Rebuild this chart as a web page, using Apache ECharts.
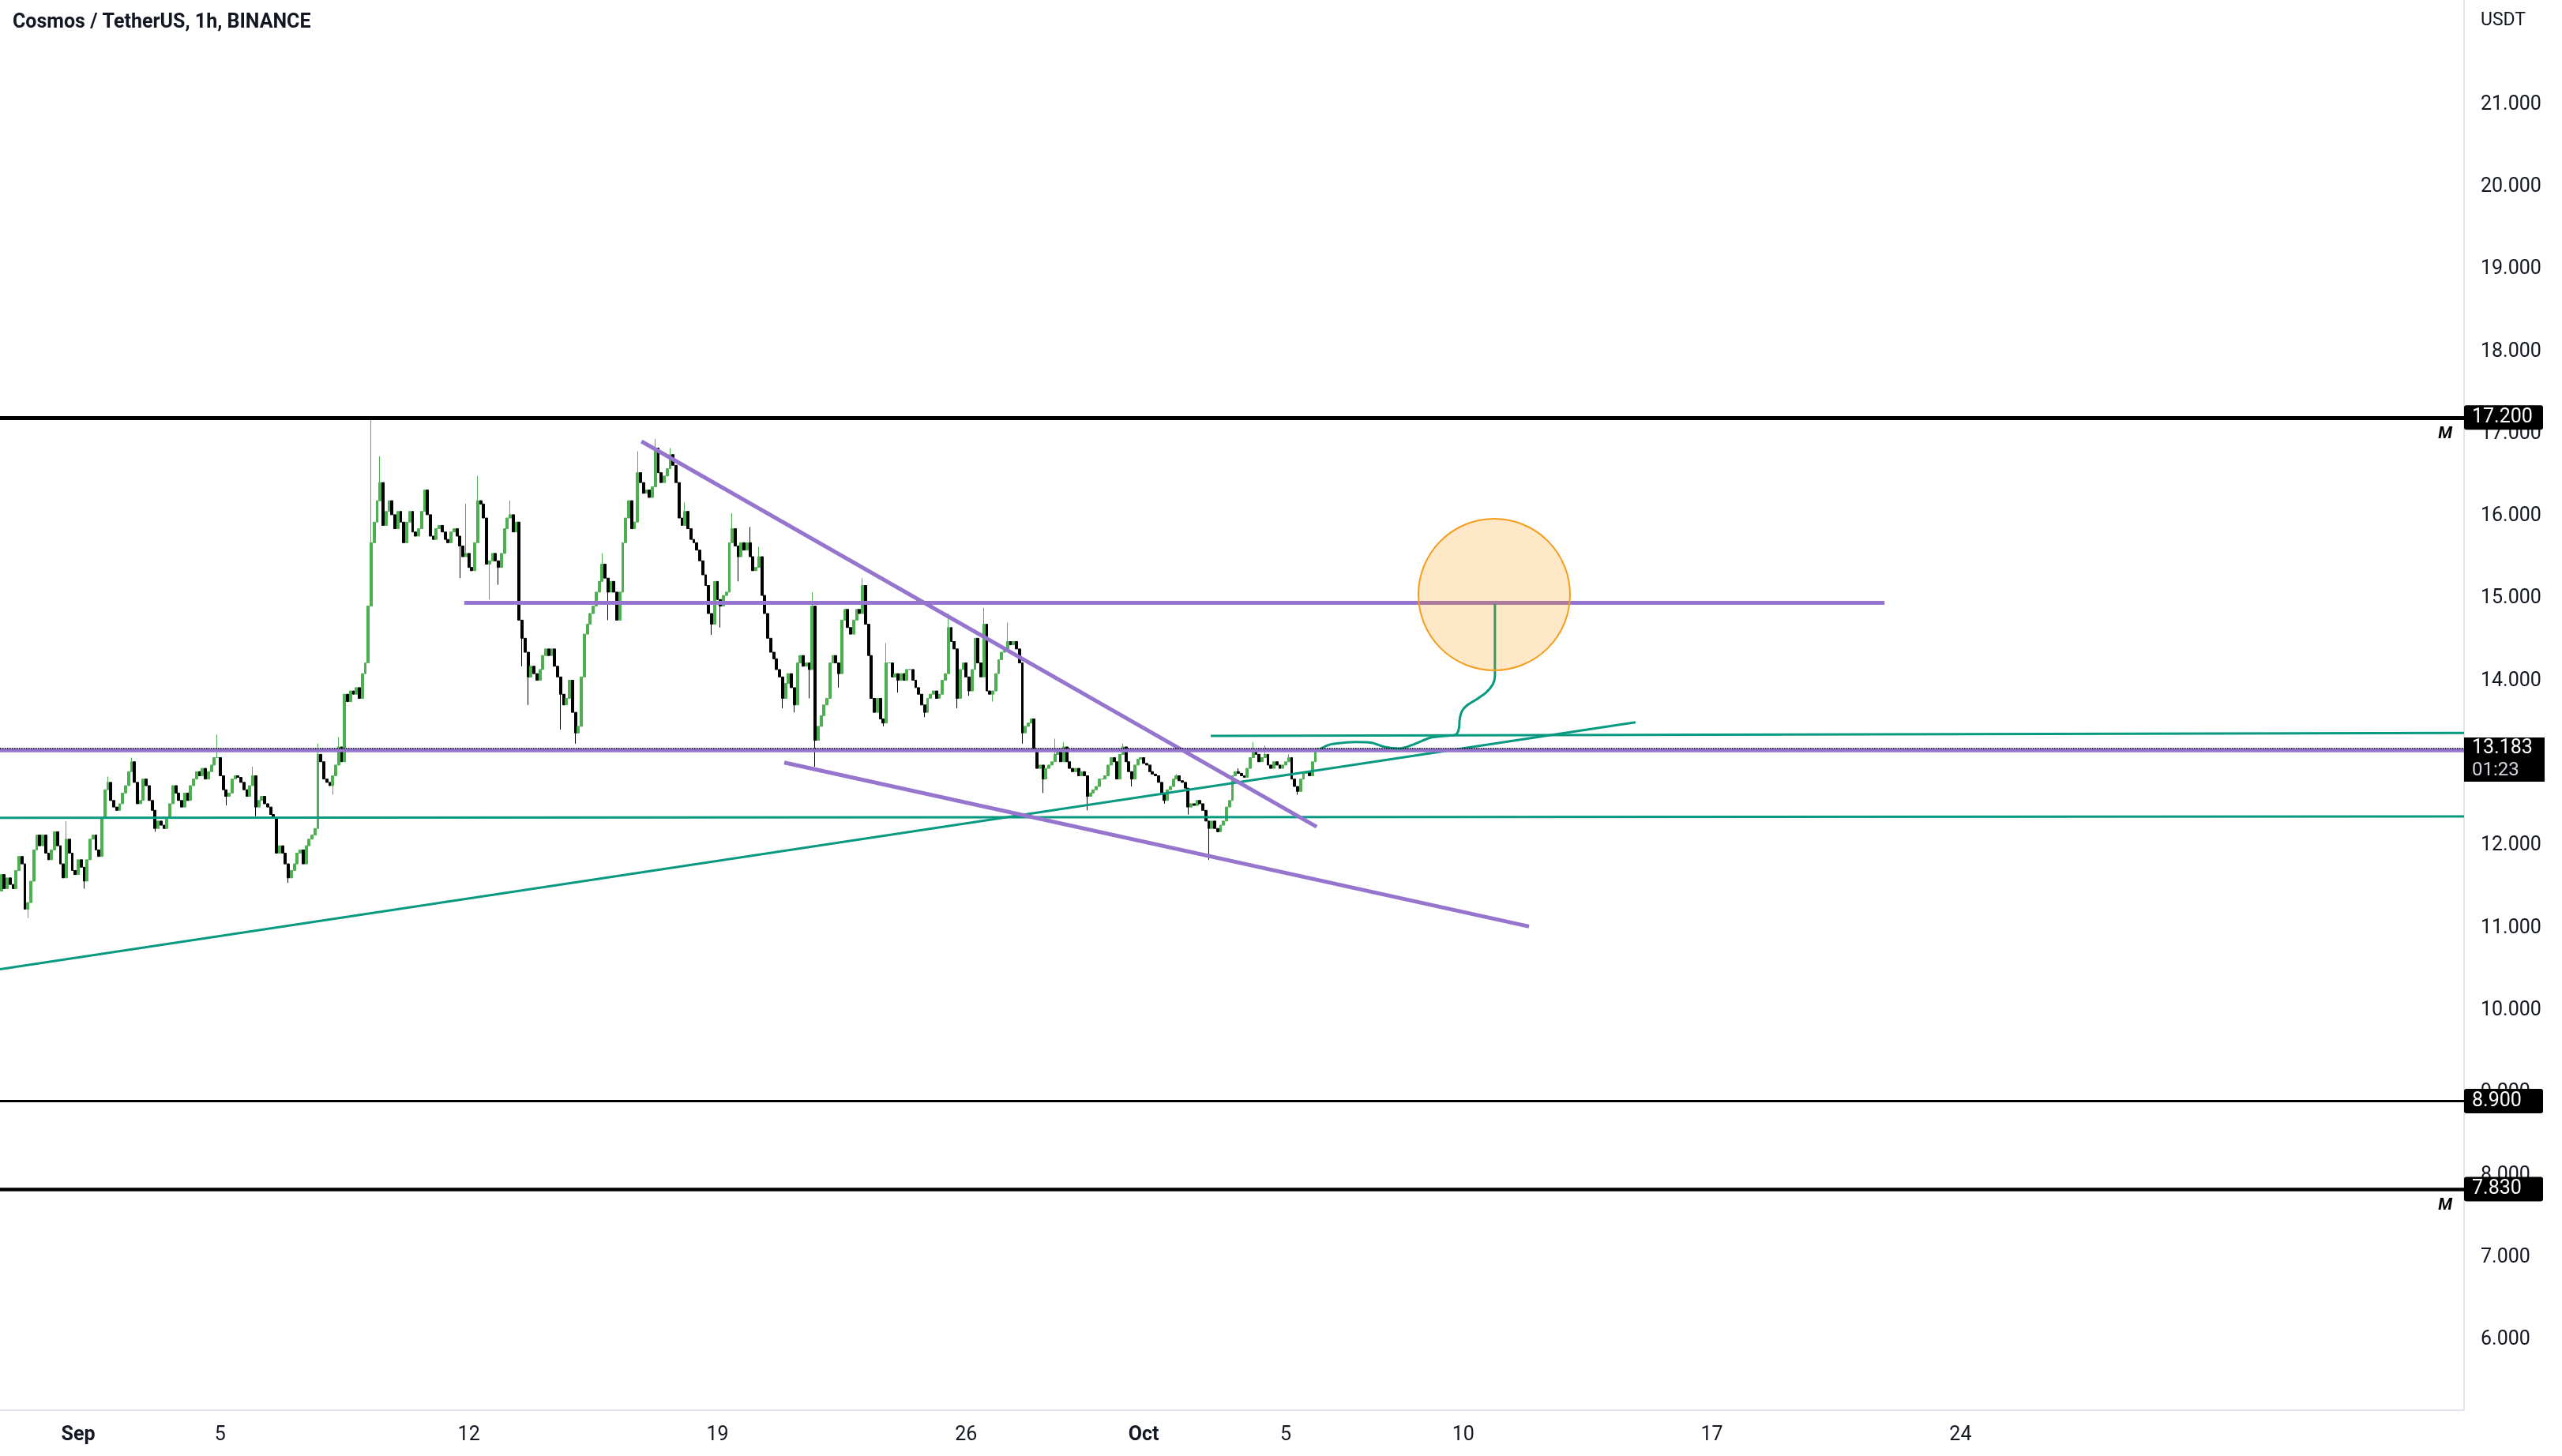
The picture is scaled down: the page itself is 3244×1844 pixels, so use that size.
<!DOCTYPE html>
<html>
<head>
<meta charset="utf-8">
<script src="https://cdn.jsdelivr.net/npm/echarts@6/dist/echarts.min.js"></script>
<style>html,body{margin:0;padding:0;background:#fff}#c{width:3244px;height:1844px}</style>
</head>
<body>
<div id="c"></div>
<script>
// ---- time base: days since 2022-09-01 00:00 ----
const startDay = -2.1667;          // first 2h candle: Aug 29 20:00
const stepDay = 1 / 12;            // 2-hour candles
const xMin = -2.2015;
const xMax = 67.178;
const yMin = 5.146;
const yMax = 22.27;

const firstOpen = 11.45;
const closes = [
11.65,11.48,11.61,11.53,11.48,11.70,11.87,11.78,11.23,11.31,
11.57,11.95,12.13,12.00,12.13,11.91,11.83,11.95,12.17,12.00,
11.78,11.61,12.08,11.91,11.70,11.65,11.83,11.74,11.57,11.83,
12.08,12.13,11.95,11.87,12.34,12.68,12.77,12.55,12.47,12.43,
12.51,12.64,12.73,12.90,13.02,12.77,12.51,12.55,12.81,12.73,
12.55,12.43,12.21,12.30,12.25,12.21,12.34,12.51,12.73,12.64,
12.55,12.47,12.64,12.55,12.73,12.81,12.90,12.85,12.94,12.81,
12.90,12.98,13.07,13.07,12.85,12.68,12.60,12.64,12.81,12.85,
12.83,12.77,12.68,12.60,12.73,12.85,12.47,12.55,12.60,12.51,
12.47,12.38,12.34,11.91,12.00,11.91,11.78,11.61,11.70,11.78,
11.91,11.95,11.78,12.00,12.08,12.13,12.21,13.11,13.02,12.81,
12.77,12.73,12.85,12.98,13.20,13.02,13.84,13.75,13.88,13.84,
13.92,13.79,14.09,14.22,14.91,15.68,15.93,16.19,16.41,15.89,
16.06,16.19,16.02,15.85,16.06,15.93,15.68,15.93,16.06,15.81,
15.76,15.85,16.06,16.32,16.02,15.76,15.72,15.85,15.89,15.81,
15.72,15.68,15.81,15.85,15.76,15.64,15.51,15.55,15.38,15.34,
15.68,16.19,16.15,15.98,15.42,15.46,15.55,15.46,15.38,15.55,
15.85,15.98,16.02,15.81,15.93,14.74,14.52,14.35,14.05,14.18,
14.09,14.01,14.14,14.31,14.39,14.31,14.39,14.18,14.05,13.84,
13.71,13.79,14.01,13.62,13.37,13.45,14.05,14.57,14.69,14.82,
14.91,15.08,15.21,15.42,15.25,15.08,15.21,15.08,14.74,15.08,
15.68,15.98,16.19,15.85,15.93,16.53,16.41,16.28,16.32,16.23,
16.36,16.83,16.53,16.41,16.49,16.58,16.75,16.62,16.41,15.98,
15.89,16.06,15.85,15.72,15.68,15.59,15.46,15.29,15.16,14.82,
14.69,15.21,14.99,14.91,15.04,15.08,15.68,15.85,15.64,15.51,
15.68,15.59,15.68,15.51,15.34,15.38,15.51,15.04,14.82,14.52,
14.35,14.27,14.14,14.05,13.79,13.97,14.09,13.92,13.71,14.22,
14.31,14.18,14.22,14.14,14.91,13.28,13.45,13.58,13.71,13.79,
14.22,14.31,14.22,14.09,14.74,14.87,14.65,14.57,14.74,14.87,
14.82,15.16,14.69,14.31,13.79,13.62,13.79,13.54,13.49,14.22,
14.22,14.05,14.09,14.01,14.09,14.01,14.14,14.14,14.01,13.92,
13.84,13.71,13.62,13.79,13.84,13.88,13.79,13.84,14.01,14.09,
14.65,14.48,14.39,13.79,14.14,14.22,14.05,13.88,14.14,14.52,
14.22,14.05,14.69,13.88,13.84,13.88,14.09,14.26,14.35,14.39,
14.48,14.44,14.48,14.39,14.22,13.37,13.45,13.49,13.54,13.15,
12.94,12.98,12.81,12.94,12.98,13.02,13.11,13.15,13.02,13.20,
13.02,12.94,12.90,12.94,12.85,12.90,12.85,12.60,12.64,12.68,
12.72,12.81,12.81,12.85,12.98,13.07,13.02,12.81,13.11,13.20,
13.02,12.90,12.81,12.98,13.05,13.07,13.00,12.98,12.90,12.87,
12.85,12.77,12.64,12.55,12.68,12.72,12.81,12.85,12.79,12.77,
12.70,12.47,12.51,12.49,12.55,12.51,12.43,12.30,12.21,12.30,
12.21,12.17,12.25,12.30,12.47,12.55,12.85,12.90,12.88,12.85,
12.83,12.94,13.07,13.15,13.11,13.02,13.07,13.11,12.98,12.94,
13.02,12.98,12.94,12.98,13.02,13.07,12.81,12.72,12.66,12.81,
12.88,12.90,12.85,13.02,13.15,13.183
];
// notable wick extremes: [candle index, price]
const wickHighs = [
[22,12.30],[36,12.84],[44,13.07],[73,13.35],[85,12.96],[107,13.24],[114,13.32],[125,17.18],
[128,16.73],[157,16.15],[161,16.49],[172,16.19],[203,15.55],[215,16.79],[221,16.94],[226,16.83],
[231,16.17],[247,16.04],[253,15.87],[256,15.63],[274,15.08],[291,15.25],[299,14.46],[320,14.82],
[332,14.89],[340,14.71],[356,13.30],[359,13.26],[379,13.24],[397,12.87],[418,12.94],[423,13.26],
[427,13.22],[435,13.11]
];
const wickLows = [
[9,11.12],[28,11.48],[52,12.17],[76,12.49],[86,12.36],[97,11.55],[112,12.62],[155,15.25],
[165,14.99],[168,15.17],[176,14.18],[178,13.71],[189,13.41],[194,13.24],[205,14.74],[240,14.56],
[243,14.65],[249,15.21],[264,13.67],[268,13.62],[273,13.79],[275,12.96],[283,13.92],[298,13.45],
[303,13.86],[312,13.56],[323,13.67],[327,13.82],[335,13.75],[345,13.24],[352,12.64],[367,12.43],
[382,12.72],[393,12.51],[401,12.38],[408,11.83],[438,12.62]
];

// axis ticks
const xTickDays = [0, 4, 11, 18, 25, 30, 34, 39, 46, 53];
const xTickLabels = ['Sep', '5', '12', '19', '26', 'Oct', '5', '10', '17', '24'];
const yTicks = [6, 7, 8, 9, 10, 11, 12, 13, 14, 15, 16, 17, 18, 19, 20, 21];

// horizontal levels
const blackLevels = [17.2, 8.9, 7.83];
const mLevels = [17.2, 7.83];
const lastPrice = 13.183;
const countdown = '01:23';

// drawn lines: [[startDay, startPrice], [endDay, endPrice]]
const purpleSegments = [
  [[-2.2015, 13.16], [67.178, 13.16]],
  [[10.87, 14.95], [50.86, 14.95]],
  [[15.86, 16.91], [34.87, 12.23]],
  [[19.88, 13.01], [40.85, 11.02]]
];
const tealSegments = [
  [[-2.2015, 10.50], [43.85, 13.50]],
  [[-2.2015, 12.34], [67.178, 12.355]],
  [[31.89, 13.335], [67.178, 13.37]]
];
// hand-drawn projected path
const pathDays = [34.98, 35.25, 35.60, 35.98, 36.42, 36.78, 37.20, 37.60, 38.05, 38.38, 38.71, 38.82, 38.88, 38.90, 38.97, 39.12, 39.38, 39.64, 39.83, 39.89, 39.89];
const pathPrices = [13.18, 13.23, 13.25, 13.26, 13.25, 13.20, 13.18, 13.23, 13.31, 13.33, 13.34, 13.36, 13.43, 13.54, 13.64, 13.71, 13.78, 13.86, 13.96, 14.06, 14.94];
// target circle centre
const targetDay = 39.87;
const targetPrice = 15.05;

// ---- build ----
const F = 'Roboto, "Liberation Sans", Arial, sans-serif';
const hiMap = new Map(wickHighs);
const loMap = new Map(wickLows);
const candles = [];
let prev = firstOpen;
closes.forEach((c, i) => {
  const o = prev;
  const hi = Math.max(o, c, hiMap.has(i) ? hiMap.get(i) : -Infinity);
  const lo = Math.min(o, c, loMap.has(i) ? loMap.get(i) : Infinity);
  candles.push([startDay + i * stepDay, o, c, lo, hi]);
  prev = c;
});

const blackWidths = [5, 3, 4.5];
const boxLabel = {
  show: true, position: 'end', distance: 0, color: '#fff', backgroundColor: '#000',
  borderRadius: 3, padding: [4, 10, 2, 10], fontSize: 25, fontFamily: F, width: 80, align: 'left'
};
const markData = [];
blackLevels.forEach((v, k) => {
  markData.push({ yAxis: v, lineStyle: { color: '#000', width: blackWidths[k], type: 'solid' },
    label: Object.assign({}, boxLabel, { formatter: v.toFixed(3) }) });
});
mLevels.forEach(v => {
  markData.push({ yAxis: v, lineStyle: { color: 'rgba(0,0,0,0)', width: 1 },
    label: { show: true, position: 'insideEndBottom', distance: [15, 10], formatter: 'M', color: '#000',
      fontStyle: 'italic', fontWeight: 'bold', fontSize: 21, fontFamily: F } });
});
markData.push({ yAxis: lastPrice, lineStyle: { color: '#000', width: 1.5, type: 'dotted' },
  label: { show: true, position: 'end', distance: 0,
    formatter: '{z| }\n{a|' + lastPrice.toFixed(3) + '}\n{b|' + countdown + '}',
    rich: {
      z: { height: 28, lineHeight: 28, fontSize: 10 },
      a: { color: '#fff', backgroundColor: '#000', fontSize: 25, fontFamily: F, width: 82, height: 28, lineHeight: 28, padding: [0, 10], align: 'left' },
      b: { color: '#d1d4dc', backgroundColor: '#000', fontSize: 24, fontFamily: F, width: 82, height: 28, lineHeight: 28, padding: [0, 10], align: 'left' }
    } } });

const series = [];
series.push({
  type: 'candlestick', data: candles, encode: { x: 0, y: [1, 2, 3, 4] },
  barWidth: 3.4, silent: true, z: 2,
  itemStyle: { color: '#4caf50', color0: '#000', borderColor: '#4caf50', borderColor0: '#000', borderWidth: 1 }
});
tealSegments.forEach(s => series.push({ type: 'line', data: s, symbol: 'none', silent: true, z: 3,
  lineStyle: { color: '#089981', width: 3 } }));
purpleSegments.forEach(s => series.push({ type: 'line', data: s, symbol: 'none', silent: true, z: 3,
  lineStyle: { color: '#9575cd', width: 5 } }));
series.push({ type: 'line', data: pathDays.map((d, i) => [d, pathPrices[i]]), symbol: 'none', silent: true, z: 3,
  smooth: 0.3, lineStyle: { color: '#089981', width: 3 } });
series.push({ type: 'line', data: [], silent: true, z: 4,
  markLine: { symbol: ['none', 'none'], silent: true, animation: false, data: markData } });
series.push({ type: 'scatter', data: [[targetDay, targetPrice]], symbol: 'circle', symbolSize: 192, silent: true, z: 6,
  itemStyle: { color: 'rgba(255,152,0,0.22)', borderColor: '#f59d1a', borderWidth: 2, opacity: 1 } });

const chart = echarts.init(document.getElementById('c'), null, { renderer: 'canvas' });
chart.setOption({
  animation: false,
  backgroundColor: '#ffffff',
  title: [
    { text: 'Cosmos / TetherUS, 1h, BINANCE', left: 16, top: 16, padding: 0,
      textStyle: { fontSize: 25, fontWeight: 'bold', color: '#131722', fontFamily: F } },
    { text: 'USDT', left: 3141, top: 15, padding: 0,
      textStyle: { fontSize: 23, fontWeight: 'normal', color: '#131722', fontFamily: F } }
  ],
  grid: { left: 0, right: 124, top: 0, bottom: 58, containLabel: false, outerBoundsMode: 'none' },
  xAxis: {
    type: 'value', min: xMin, max: xMax,
    axisLine: { show: true, onZero: false, lineStyle: { color: '#e0e3eb', width: 2 } },
    axisTick: { show: false },
    splitLine: { show: false },
    axisLabel: {
      customValues: xTickDays, margin: 19, fontSize: 25, color: '#131722', fontFamily: F,
      formatter: v => {
        const k = xTickDays.indexOf(Math.round(v));
        const t = k >= 0 ? xTickLabels[k] : '';
        return (t === 'Sep' || t === 'Oct') ? '{b|' + t + '}' : t;
      },
      rich: { b: { fontWeight: 'bold', fontSize: 25, fontFamily: F, color: '#131722' } }
    }
  },
  yAxis: {
    type: 'value', position: 'right', min: yMin, max: yMax, scale: true,
    axisLine: { show: true, onZero: false, lineStyle: { color: '#e0e3eb', width: 2 } },
    axisTick: { show: false },
    splitLine: { show: false },
    axisLabel: { customValues: yTicks, margin: 21, fontSize: 25, color: '#131722', fontFamily: F,
      formatter: v => v.toFixed(3) }
  },
  series: series
});
</script>
</body>
</html>
